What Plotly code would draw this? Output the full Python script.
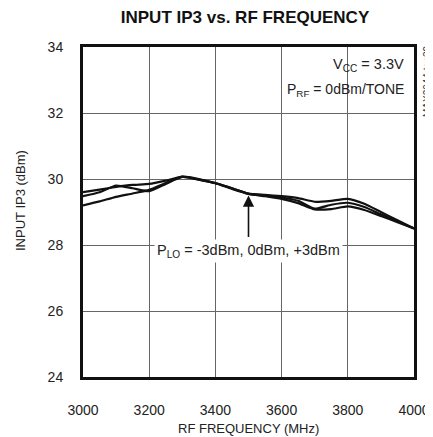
import plotly.graph_objects as go

freq = [3000, 3050, 3100, 3150, 3200, 3250, 3300, 3350, 3400, 3450, 3500,
        3550, 3600, 3650, 3700, 3750, 3800, 3850, 3900, 3950, 4000]
ip3_m3 = [29.60, 29.68, 29.76, 29.82, 29.85, 29.95, 30.07, 30.00, 29.88, 29.72, 29.56,
          29.52, 29.48, 29.42, 29.31, 29.34, 29.40, 29.25, 29.00, 28.75, 28.50]
ip3_0 = [29.48, 29.60, 29.80, 29.72, 29.63, 29.85, 30.06, 29.98, 29.87, 29.72, 29.55,
         29.50, 29.44, 29.34, 29.10, 29.22, 29.28, 29.15, 28.93, 28.72, 28.50]
ip3_p3 = [29.20, 29.32, 29.46, 29.56, 29.67, 29.88, 30.07, 29.98, 29.87, 29.70, 29.55,
          29.48, 29.40, 29.27, 29.08, 29.09, 29.17, 29.06, 28.88, 28.69, 28.50]
series_names = ["PLO = -3dBm", "PLO = 0dBm", "PLO = +3dBm"]
x_ticks = [3000, 3200, 3400, 3600, 3800, 4000]
y_ticks = [24, 26, 28, 30, 32, 34]

FONT = "Liberation Sans, Arial, sans-serif"
TXT = "#222222"

# the page body adds an 8px offset; the figure is sized to the visible area
OFF = 8
W, H = 433 - OFF, 437 - OFF
L, T = 83 - OFF, 47 - OFF
R = W - (414 - OFF)
B = H - (377 - OFF)
PW, PH = W - L - R, H - T - B


def px(xs):
    # screen x (reference pixels) -> paper coordinate
    return (xs - OFF - L) / PW


def py(ys):
    # screen y (reference pixels) -> paper coordinate
    return (H - B - (ys - OFF)) / PH


fig = go.Figure()
for name, ys in zip(series_names, [ip3_m3, ip3_0, ip3_p3]):
    fig.add_trace(go.Scatter(x=freq, y=ys, mode="lines", name=name,
                             line=dict(color="#111111", width=2.2, shape="spline", smoothing=0.5)))

fig.update_layout(
    width=W, height=H,
    margin=dict(l=L, r=R, t=T, b=B),
    paper_bgcolor="white", plot_bgcolor="white",
    showlegend=False,
    font=dict(family=FONT, size=14, color=TXT),
    title=dict(text="<b>INPUT IP3 vs. RF FREQUENCY</b>", x=(245 - OFF) / W, xanchor="center",
               y=1 - (17 - OFF) / H, yanchor="middle", font=dict(family=FONT, size=17, color="#111111")),
)
fig.update_xaxes(range=[3000, 4000], tickvals=x_ticks,
                 showgrid=True, gridcolor="#666666", gridwidth=1,
                 showline=True, linecolor="#111111", linewidth=3, mirror=True,
                 ticks="", zeroline=False, automargin=False, ticklabelstandoff=18,
                 tickfont=dict(size=14, color=TXT))
fig.update_yaxes(range=[24, 34], tickvals=y_ticks,
                 showgrid=True, gridcolor="#666666", gridwidth=1,
                 showline=True, linecolor="#111111", linewidth=3, mirror=True,
                 ticks="", zeroline=False, automargin=False, ticklabelstandoff=14,
                 tickfont=dict(size=14, color=TXT))

# axis titles
fig.add_annotation(x=px(248), y=py(428), xref="paper", yref="paper", showarrow=False,
                   text="RF FREQUENCY (MHz)", font=dict(size=13, color=TXT),
                   xanchor="center", yanchor="middle")
fig.add_annotation(x=px(20), y=py(201), xref="paper", yref="paper", showarrow=False,
                   text="INPUT IP3 (dBm)", textangle=-90, font=dict(size=13, color=TXT),
                   xanchor="center", yanchor="middle")

# arrow pointing to the curves
fig.add_annotation(x=3500, y=29.5, ax=3500, ay=28.2, xref="x", yref="y", axref="x", ayref="y",
                   text="", showarrow=True, arrowhead=2, arrowsize=1.4, arrowwidth=1.6,
                   arrowcolor="#111111")
fig.add_annotation(x=3500, y=27.83, xref="x", yref="y", showarrow=False,
                   text="P<sub>LO</sub> = -3dBm, 0dBm, +3dBm", bgcolor="white", borderpad=2,
                   font=dict(size=14.5, color=TXT))
fig.add_annotation(x=px(406), y=py(65), xref="paper", yref="paper", xanchor="right", yanchor="middle",
                   showarrow=False, text="V<sub>CC</sub> = 3.3V", font=dict(size=14.5, color=TXT))
fig.add_annotation(x=px(406), y=py(90), xref="paper", yref="paper", xanchor="right", yanchor="middle",
                   showarrow=False, text="P<sub>RF</sub> = 0dBm/TONE", font=dict(size=14, color=TXT))
fig.add_annotation(x=px(427), y=py(81), xref="paper", yref="paper", showarrow=False,
                   text="MAX2044 toc39", textangle=-90, font=dict(size=10, color="#333333"),
                   xanchor="center", yanchor="middle")

fig.write_html("out.html")
